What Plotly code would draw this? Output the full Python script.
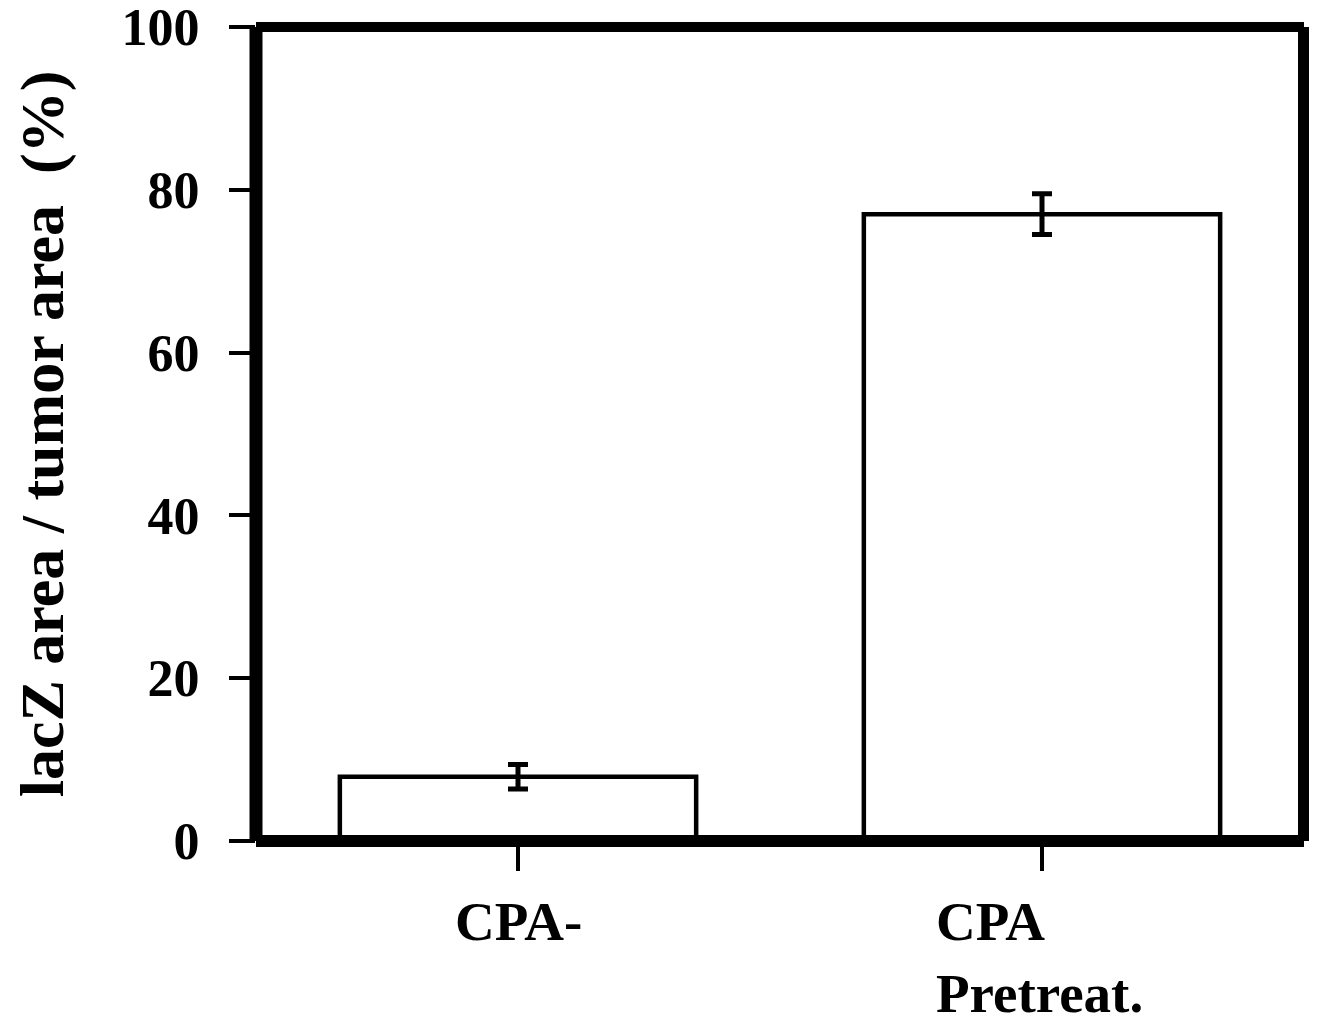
import plotly.graph_objects as go

categories = ["CPA-", "CPA<br>Pretreat."]
values = [7.9, 77.0]
errors = [1.5, 2.5]
y_ticks = [0, 20, 40, 60, 80, 100]
y_title = "lacZ area / tumor area  (%)"

FONT = "Liberation Serif, Times New Roman, serif"

fig = go.Figure()
fig.add_trace(go.Bar(
    x=[0, 1], y=values,
    width=0.68,
    marker=dict(color="white", line=dict(color="black", width=4.5)),
    error_y=dict(type="data", array=errors, visible=True, color="black", thickness=5, width=10),
))

# category labels as annotations (left-aligned multi-line like the original)
fig.add_annotation(x=0, y=0, text=categories[0], showarrow=False, xanchor="center", yanchor="top",
                   yshift=-48, font=dict(family=FONT, size=55, color="black", weight="bold"))
fig.add_annotation(x=1, y=0, text=categories[1], showarrow=False, xanchor="left", yanchor="top",
                   align="left", xshift=-108, yshift=-48,
                   font=dict(family=FONT, size=55, color="black", weight="bold"))

# thick frame
for (x0, y0, x1, y1, w) in [(0, 0, 0, 1, 13), (1, 0, 1, 1, 12), (0, 0, 1, 0, 12), (0, 1, 1, 1, 10)]:
    fig.add_shape(type="line", xref="paper", yref="paper", x0=x0, y0=y0, x1=x1, y1=y1,
                  line=dict(color="black", width=w), layer="above")

fig.update_layout(
    width=1309, height=1009,
    margin=dict(l=248, r=13, t=19, b=176),
    paper_bgcolor="white", plot_bgcolor="white",
    showlegend=False,
    font=dict(family=FONT, color="black", weight="bold"),
    xaxis=dict(range=[-0.5, 1.5], tickvals=[0, 1], ticktext=["", ""], ticks="outside",
               ticklen=29, tickwidth=4, tickcolor="black", showgrid=False, zeroline=False,
               showline=False, automargin=False),
    yaxis=dict(range=[0, 100], tickvals=y_ticks, ticks="outside", ticklen=26, tickwidth=4,
               tickcolor="black", showgrid=False, zeroline=False, showline=False,
               automargin=False,
               tickfont=dict(family=FONT, size=52, color="black", weight="bold"),
               ticklabelstandoff=19, ticklabeloverflow="allow",
               title=dict(text=y_title, standoff=66,
                          font=dict(family=FONT, size=62, color="black", weight="bold"))),
)

fig.write_html("out.html")
